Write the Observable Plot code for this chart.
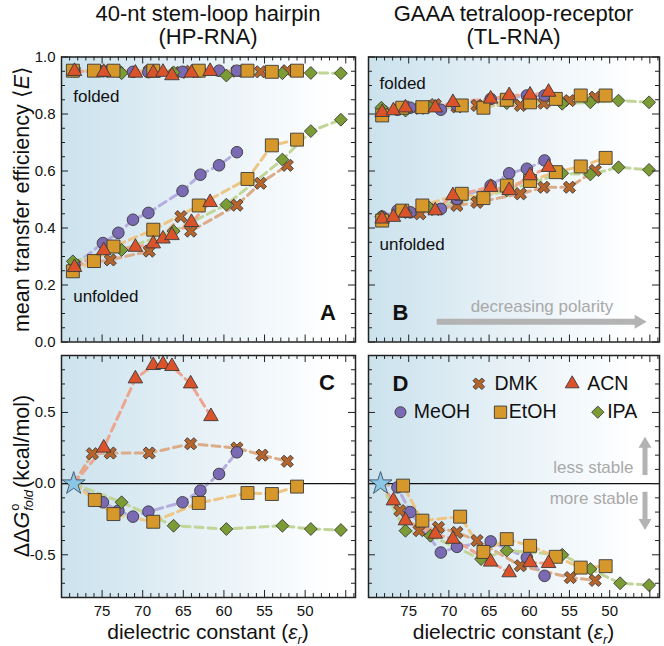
<!DOCTYPE html>
<html>
<head>
<meta charset="utf-8">
<script src="https://cdn.jsdelivr.net/npm/d3@7"></script>
<script src="https://cdn.jsdelivr.net/npm/@observablehq/plot@0.6"></script>
<style>
  html, body { margin: 0; padding: 0; background: #fff; }
  #fig { position: relative; width: 664px; height: 646px; overflow: hidden;
         font-family: "Liberation Sans", Arial, Helvetica, sans-serif; color: #111; }
  .abs { position: absolute; }
  .ptitle { font-size: 22px; line-height: 23px; text-align: center; white-space: nowrap; }
  .atitle { font-size: 21px; line-height: 24px; text-align: center; white-space: nowrap; }
  .ytitle { font-size: 21.5px; }
  .rot { transform: translate(-50%, -50%) rotate(-90deg); }
  sub { font-size: 0.62em; line-height: 0; }
  .ss { display: inline-block; vertical-align: -0.35em; font-size: 0.6em; line-height: 1.05; text-align: left; margin-left: 1px; margin-right: 2px; }
  .ss span { display: block; }
</style>
</head>
<body>
<div id="fig"></div>
<script>
// ================= DATA =================
const solvents = ["DMK", "ACN", "MeOH", "EtOH", "IPA"];
const waterEps = 78.5;           // reference point (buffer), ΔΔG = 0
const xTickLabels = [75, 70, 65, 60, 55, 50];
const eTickLabels = [0, 0.2, 0.4, 0.6, 0.8, 1.0];
const gTickLabels = [-0.5, 0, 0.5];

// Panel A – HP-RNA  [ε_r, folded <E>, unfolded <E>]
const hpE_DMK  = [[78.4,0.950,0.270],[74.0,0.950,0.288],[69.2,0.950,0.319],[65.3,0.946,0.440],[64.1,0.950,0.389],[58.4,0.950,0.480],[55.5,0.948,0.557],[52.2,0.952,0.620]];
const hpE_ACN  = [[78.4,0.950,0.262],[74.8,0.947,0.321],[70.9,0.944,0.333],[68.7,0.944,0.345],[67.5,0.947,0.362],[66.4,0.935,0.374],[64.0,0.944,0.420],[61.7,0.950,0.490]];
const hpE_MeOH = [[78.4,0.950,0.270],[74.9,0.950,0.347],[73.0,0.950,0.383],[71.2,0.948,0.429],[69.3,0.947,0.453],[65.1,0.948,0.530],[62.9,0.950,0.587],[60.6,0.952,0.620],[58.4,0.952,0.666]];
const hpE_EtOH = [[78.6,0.952,0.248],[76.0,0.952,0.284],[73.6,0.952,0.335],[68.7,0.952,0.394],[63.1,0.952,0.479],[57.1,0.952,0.572],[54.1,0.948,0.690],[51.0,0.952,0.710]];
const hpE_IPA  = [[78.6,0.953,0.283],[72.6,0.943,0.323],[66.2,0.946,0.389],[59.7,0.935,0.482],[52.8,0.943,0.640],[49.3,0.944,0.740],[45.6,0.943,0.780]];

// Panel B – TL-RNA  [ε_r, folded <E>, unfolded <E>]
const tlE_DMK  = [[78.3,0.810,0.430],[73.6,0.820,0.450],[71.7,0.833,0.465],[69.0,0.825,0.479],[66.5,0.830,0.490],[61.1,0.830,0.520],[58.2,0.838,0.543],[55.0,0.847,0.543],[51.8,0.859,0.602]];
const tlE_ACN  = [[78.3,0.806,0.432],[76.9,0.812,0.438],[75.4,0.822,0.453],[71.7,0.822,0.461],[69.5,0.841,0.514],[64.8,0.853,0.543],[62.5,0.865,0.532],[59.9,0.867,0.584],[57.6,0.877,0.613]];
const tlE_MeOH = [[78.3,0.810,0.440],[76.4,0.815,0.461],[74.8,0.822,0.455],[71.0,0.815,0.467],[69.0,0.830,0.502],[64.8,0.853,0.549],[62.5,0.855,0.592],[60.3,0.865,0.608],[58.1,0.865,0.637]];
const tlE_EtOH = [[78.3,0.795,0.426],[75.8,0.822,0.461],[73.3,0.824,0.479],[68.4,0.830,0.520],[65.7,0.822,0.505],[62.8,0.850,0.549],[59.9,0.841,0.565],[56.7,0.853,0.596],[53.6,0.865,0.616],[50.5,0.865,0.646]];
const tlE_IPA  = [[78.4,0.822,0.440],[75.4,0.812,0.455],[72.5,0.826,0.473],[65.9,0.822,0.508],[62.8,0.838,0.532],[55.9,0.836,0.592],[52.4,0.841,0.588],[48.9,0.847,0.613],[45.1,0.841,0.604]];

// Panel C – HP-RNA ΔΔG°fold (kcal/mol)  [ε_r, ΔΔG]
const hpG_DMK  = [[76.2,0.210],[74.0,0.215],[69.2,0.215],[64.1,0.280],[58.4,0.250],[55.3,0.200],[52.2,0.157]];
const hpG_ACN  = [[74.8,0.251],[70.9,0.737],[68.7,0.831],[67.5,0.838],[66.4,0.824],[64.1,0.702],[61.6,0.472]];
const hpG_MeOH = [[74.9,-0.131],[73.0,-0.190],[71.2,-0.232],[69.3,-0.197],[65.1,-0.131],[62.9,-0.049],[60.6,0.068],[58.4,0.220]];
const hpG_EtOH = [[75.9,-0.115],[73.6,-0.214],[68.7,-0.268],[63.1,-0.136],[57.1,-0.066],[54.1,-0.073],[51.0,-0.021]];
const hpG_IPA  = [[72.6,-0.131],[66.2,-0.296],[59.7,-0.319],[52.8,-0.296],[49.3,-0.319],[45.6,-0.326]];

// Panel D – TL-RNA ΔΔG°fold (kcal/mol)  [ε_r, ΔΔG]
const tlG_DMK  = [[76.1,-0.190],[73.7,-0.330],[71.3,-0.308],[69.0,-0.343],[66.5,-0.400],[61.1,-0.577],[54.9,-0.660],[51.8,-0.680]];
const tlG_ACN  = [[76.9,-0.120],[75.4,-0.260],[71.7,-0.354],[69.5,-0.390],[64.8,-0.550],[62.5,-0.625],[59.9,-0.554],[57.6,-0.560]];
const tlG_MeOH = [[76.4,-0.026],[74.8,-0.200],[71.0,-0.484],[69.0,-0.444],[64.8,-0.406],[60.3,-0.519],[58.1,-0.648]];
const tlG_EtOH = [[75.7,-0.014],[73.3,-0.260],[68.6,-0.232],[65.7,-0.480],[62.8,-0.390],[59.9,-0.437],[56.7,-0.514],[53.6,-0.590],[50.5,-0.580]];
const tlG_IPA  = [[75.4,-0.331],[72.3,-0.366],[66.0,-0.530],[62.8,-0.470],[55.9,-0.500],[52.4,-0.600],[48.7,-0.700],[45.1,-0.713]];

// ================= STYLE =================
const fills    = {DMK: "#b5642c", ACN: "#da532b", MeOH: "#7a69b3", EtOH: "#d6982b", IPA: "#7b9c35"};
const lineCols = {DMK: "#dcab88", ACN: "#eea58f", MeOH: "#b5acdf", EtOH: "#edc584", IPA: "#c0d596"};
const radii    = {DMK: 5.8, ACN: 5.4, MeOH: 5.8, EtOH: 7.3, IPA: 5.8};
const drawOrder = ["DMK", "MeOH", "IPA", "EtOH", "ACN"];
const xSymbol = {
  draw(ctx, size) {
    const q = Math.sqrt(size), L = 0.64 * q, w = 0.2 * q, c = Math.SQRT1_2;
    const pts = [[-L,-w],[-w,-w],[-w,-L],[w,-L],[w,-w],[L,-w],[L,w],[w,w],[w,L],[-w,L],[-w,w],[-L,w]];
    pts.forEach(([x, y], i) => { const X = (x - y) * c, Y = (x + y) * c; if (i) ctx.lineTo(X, Y); else ctx.moveTo(X, Y); });
    ctx.closePath();
  }
};
const syms = {DMK: xSymbol, ACN: "triangle", MeOH: "circle", EtOH: "square", IPA: "diamond2"};
const xDomain = [80, 43.8];

const eData = {
  A: {DMK: hpE_DMK, ACN: hpE_ACN, MeOH: hpE_MeOH, EtOH: hpE_EtOH, IPA: hpE_IPA},
  B: {DMK: tlE_DMK, ACN: tlE_ACN, MeOH: tlE_MeOH, EtOH: tlE_EtOH, IPA: tlE_IPA}
};
const gData = {
  C: {DMK: hpG_DMK, ACN: hpG_ACN, MeOH: hpG_MeOH, EtOH: hpG_EtOH, IPA: hpG_IPA},
  D: {DMK: tlG_DMK, ACN: tlG_ACN, MeOH: tlG_MeOH, EtOH: tlG_EtOH, IPA: tlG_IPA}
};

function arrowPoly(x1, y1, x2, y2, w, hw, hl) {
  const len = Math.hypot(x2 - x1, y2 - y1), ux = (x2 - x1) / len, uy = (y2 - y1) / len, nx = -uy, ny = ux;
  const bx = x2 - ux * hl, by = y2 - uy * hl;
  const p = [[x1 + nx*w/2, y1 + ny*w/2], [bx + nx*w/2, by + ny*w/2], [bx + nx*hw/2, by + ny*hw/2], [x2, y2],
             [bx - nx*hw/2, by - ny*hw/2], [bx - nx*w/2, by - ny*w/2], [x1 - nx*w/2, y1 - ny*w/2]];
  return "M" + p.map(d => d.join(",")).join("L") + "Z";
}

function makePanel(cfg) {
  const fw = cfg.width - cfg.ml - cfg.mr, fh = cfg.height - cfg.mt - cfg.mb;
  const marks = [];
  marks.push(() => {
    const g = d3.create("svg:g");
    const lg = g.append("defs").append("linearGradient").attr("id", "grad" + cfg.id)
      .attr("x1", "0").attr("x2", "1").attr("y1", "0").attr("y2", "0");
    [["0%", "#cbe2ed"], ["45%", "#e5f0f6"], ["92%", "#ffffff"]].forEach(([o, c]) =>
      lg.append("stop").attr("offset", o).attr("stop-color", c));
    g.append("rect").attr("x", cfg.ml).attr("y", cfg.mt).attr("width", fw).attr("height", fh)
      .attr("fill", `url(#grad${cfg.id})`);
    return g.node();
  });
  for (const s of drawOrder)
    for (const L of cfg.lines[s])
      marks.push(Plot.line(L, {x: "eps", y: "v", stroke: lineCols[s], strokeWidth: 3, strokeDasharray: "8,5"}));
  if (cfg.zero) marks.push(Plot.ruleY([0], {stroke: "#111", strokeWidth: 1.2}));
  for (const s of drawOrder)
    marks.push(Plot.dot(cfg.dots[s], {x: "eps", y: "v", symbol: syms[s], r: radii[s], fill: fills[s], stroke: "#3a3a3a", strokeWidth: 0.9}));
  if (cfg.zero)
    marks.push(Plot.dot([{eps: waterEps, v: 0}], {x: "eps", y: "v", symbol: "star", r: 7.2, fill: "#8ac7e6", stroke: "#4c5b70", strokeWidth: 1}));
  const xMinor = d3.range(44, 81).filter(d => d % 5 !== 0), xMajor = d3.range(45, 81, 5);
  for (const [vals, len] of [[xMinor, 4], [xMajor, 7]]) {
    marks.push(Plot.tickX(vals, {x: d => d, insetTop: fh - len, stroke: "#222"}));
    marks.push(Plot.tickX(vals, {x: d => d, insetBottom: fh - len, stroke: "#222"}));
  }
  for (const [vals, len] of [[cfg.yMinor, 4], [cfg.yMajor, 7]]) {
    marks.push(Plot.tickY(vals, {y: d => d, insetRight: fw - len, stroke: "#222"}));
    marks.push(Plot.tickY(vals, {y: d => d, insetLeft: fw - len, stroke: "#222"}));
  }
  marks.push(Plot.frame({stroke: "#222", strokeWidth: 1.5}));
  marks.push(...cfg.extra(fw, fh));
  return Plot.plot({
    width: cfg.width, height: cfg.height,
    marginLeft: cfg.ml, marginRight: cfg.mr, marginTop: cfg.mt, marginBottom: cfg.mb,
    x: {domain: xDomain, axis: cfg.xAxis ? "bottom" : null, ticks: xTickLabels, tickSize: 0, tickPadding: 8,
        tickFormat: d => String(d), label: null},
    y: {domain: cfg.yDomain, axis: cfg.yAxis ? "left" : null, ticks: cfg.yLabels, tickSize: 0, tickPadding: 6,
        tickFormat: d => d.toFixed(1), label: null},
    style: {fontFamily: '"Liberation Sans", Arial, sans-serif', fontSize: "15px", color: "#111",
            background: "transparent", overflow: "visible"},
    marks
  });
}

function eLinesDots(key) {
  const lines = {}, dots = {};
  for (const s of solvents) {
    const F = eData[key][s].map(([e, f]) => ({eps: e, v: f}));
    const U = eData[key][s].map(([e, , u]) => ({eps: e, v: u}));
    lines[s] = [F, U]; dots[s] = F.concat(U);
  }
  return {lines, dots};
}
function gLinesDots(key) {
  const lines = {}, dots = {};
  for (const s of solvents) {
    const R = gData[key][s].map(([e, g]) => ({eps: e, v: g}));
    lines[s] = [[{eps: waterEps, v: 0}, ...R]]; dots[s] = R;
  }
  return {lines, dots};
}

const txt = (label, opts) => Plot.text([label], {text: d => d, fill: "#111", textAnchor: "middle", lineAnchor: "middle", ...opts});
const grayArrow = (rel) => () => {
  const g = d3.create("svg:g");
  g.append("path").attr("d", rel()).attr("fill", "#b3b3b3");
  return g.node();
};

const eMinor = d3.range(0, 1.0001, 0.05).filter((d, i) => i % 4 !== 0);
const eMajor = d3.range(0, 1.0001, 0.2);
const gMinor = d3.range(-0.8, 0.9001, 0.1).map(d => Math.round(d * 10) / 10).filter(d => Math.abs(d % 0.5) > 1e-6);
const gMajor = [-0.5, 0, 0.5];

const fig = document.getElementById("fig");
function place(node, left, top) {
  const d = document.createElement("div");
  d.className = "abs"; d.style.left = left + "px"; d.style.top = top + "px";
  d.appendChild(node); fig.appendChild(d);
}

// Panel A
const pA = eLinesDots("A");
place(makePanel({
  id: "A", width: 360, height: 300, ml: 61, mr: 5, mt: 11.5, mb: 3.5,
  yDomain: [0, 1], yAxis: true, xAxis: false, yLabels: eTickLabels, yMinor: eMinor, yMajor: eMajor,
  lines: pA.lines, dots: pA.dots, zero: false,
  extra: () => [
    txt("folded", {frameAnchor: "top-left", dx: 11.7, dy: 39.5, textAnchor: "start", fontSize: 17}),
    txt("unfolded", {frameAnchor: "bottom-left", dx: 11.7, dy: -45, textAnchor: "start", fontSize: 17}),
    txt("A", {frameAnchor: "bottom-right", dx: -27.5, dy: -29, fontSize: 22, fontWeight: "bold"})
  ]
}), 0, 45);

// Panel B
const pB = eLinesDots("B");
place(makePanel({
  id: "B", width: 302, height: 300, ml: 6, mr: 5, mt: 11.5, mb: 3.5,
  yDomain: [0, 1], yAxis: false, xAxis: false, yLabels: eTickLabels, yMinor: eMinor, yMajor: eMajor,
  lines: pB.lines, dots: pB.dots, zero: false,
  extra: (fw, fh) => [
    txt("folded", {frameAnchor: "top-left", dx: 11, dy: 27, textAnchor: "start", fontSize: 17}),
    txt("unfolded", {frameAnchor: "bottom-left", dx: 11, dy: -97, textAnchor: "start", fontSize: 17}),
    txt("B", {frameAnchor: "bottom-left", dx: 32, dy: -29.5, fontSize: 22, fontWeight: "bold"}),
    txt("decreasing polarity", {frameAnchor: "bottom-left", dx: 173.5, dy: -35, fontSize: 17, fill: "#a9a9a9"}),
    grayArrow(() => arrowPoly(6 + 68.7, 11.5 + fh - 19.8, 6 + 278.7, 11.5 + fh - 19.8, 6, 14, 12))
  ]
}), 362, 45);

// Panel C
const pC = gLinesDots("C");
place(makePanel({
  id: "C", width: 360, height: 280, ml: 61, mr: 5, mt: 5, mb: 33,
  yDomain: [-0.8, 0.9], yAxis: true, xAxis: true, yLabels: gTickLabels, yMinor: gMinor, yMajor: gMajor,
  lines: pC.lines, dots: pC.dots, zero: true,
  extra: () => [
    txt("C", {frameAnchor: "top-right", dx: -28.5, dy: 27.5, fontSize: 22, fontWeight: "bold"})
  ]
}), 0, 350);

// Panel D
const pD = gLinesDots("D");
const legendLayout = {DMK: [110.3, 28.3, 126], ACN: [203.7, 28.3, 218.7], MeOH: [32, 56.7, 45.3], EtOH: [132, 56.7, 140.3], IPA: [229.3, 56.7, 238.7]};
place(makePanel({
  id: "D", width: 302, height: 280, ml: 6, mr: 5, mt: 5, mb: 33,
  yDomain: [-0.8, 0.9], yAxis: false, xAxis: true, yLabels: gTickLabels, yMinor: gMinor, yMajor: gMajor,
  lines: pD.lines, dots: pD.dots, zero: true,
  extra: (fw, fh) => {
    const m = [txt("D", {frameAnchor: "top-left", dx: 32, dy: 28.5, fontSize: 22, fontWeight: "bold"})];
    for (const s of solvents) {
      const [mx, my, tx] = legendLayout[s];
      m.push(Plot.dot([s], {frameAnchor: "top-left", dx: mx, dy: my, symbol: syms[s], r: radii[s] * 0.95,
                            fill: fills[s], stroke: "#3a3a3a", strokeWidth: 0.9}));
      m.push(txt(s, {frameAnchor: "top-left", dx: tx, dy: my, textAnchor: "start", fontSize: 19.5}));
    }
    m.push(txt("less stable", {frameAnchor: "top-right", dx: -26, dy: 112.3, textAnchor: "end", fontSize: 17, fill: "#a9a9a9"}));
    m.push(txt("more stable", {frameAnchor: "top-right", dx: -21, dy: 142.6, textAnchor: "end", fontSize: 17, fill: "#a9a9a9"}));
    const ax = 6 + fw - 14;
    m.push(grayArrow(() => arrowPoly(ax, 5 + 120, ax, 5 + 81.7, 5, 13, 11)));
    m.push(grayArrow(() => arrowPoly(ax, 5 + 136.7, ax, 5 + 175, 5, 13, 11)));
    return m;
  }
}), 362, 350);

function addHTML(html, cls, style) {
  const d = document.createElement("div");
  d.className = "abs " + cls; d.innerHTML = html; Object.assign(d.style, style); fig.appendChild(d);
}
addHTML("40-nt stem-loop hairpin<br>(HP-RNA)", "ptitle", {left: "61px", width: "294px", top: "2px"});
addHTML("GAAA tetraloop-receptor<br>(TL-RNA)", "ptitle", {left: "368px", width: "291px", top: "2px"});
addHTML("dielectric constant (<i>ε</i><sub><i>r</i></sub>)", "atitle", {left: "61px", width: "294px", top: "620px"});
addHTML("dielectric constant (<i>ε</i><sub><i>r</i></sub>)", "atitle", {left: "368px", width: "291px", top: "620px"});
addHTML("mean transfer efficiency ⟨<i>E</i>⟩", "atitle ytitle rot", {left: "22px", top: "199px"});
addHTML("ΔΔ<i>G</i><span class=\"ss\"><span>o</span><span><i>fold</i></span></span>(kcal/mol)", "atitle ytitle rot", {left: "22px", top: "476px"});
</script>
</body>
</html>
